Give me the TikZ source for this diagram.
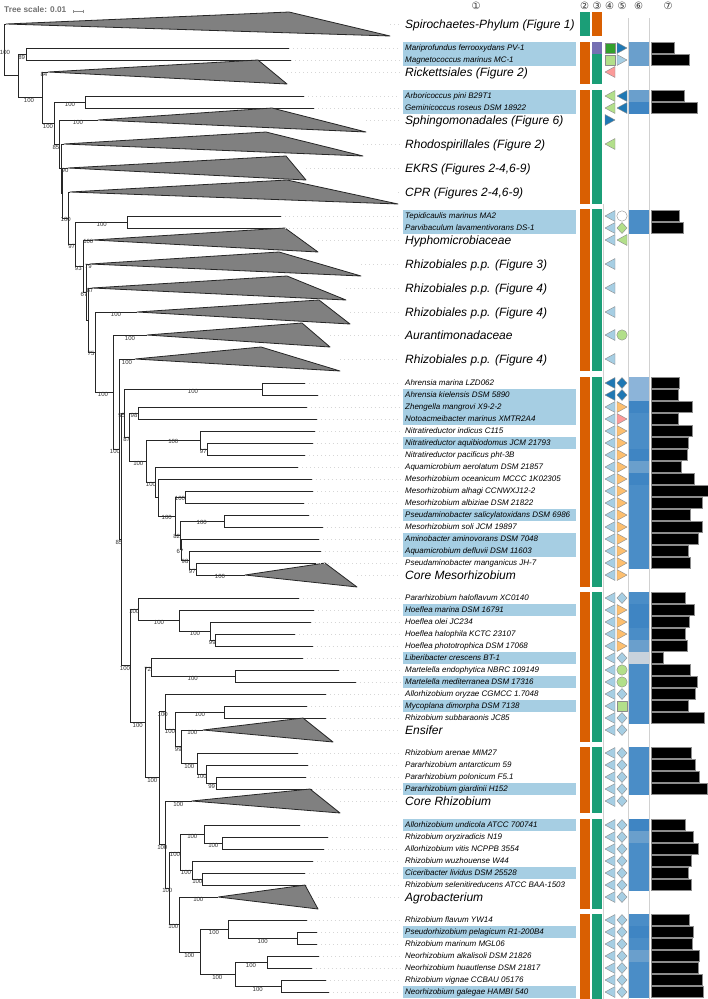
\documentclass[tikz,border=0pt]{standalone}
\usepackage{fontspec}
\setmainfont{Liberation Sans}
\newfontfamily\circfont{DejaVu Sans}
\usetikzlibrary{arrows.meta}
\definecolor{StripOrange}{HTML}{D95F02}
\definecolor{StripTeal}{HTML}{1B9E77}
\definecolor{StripPurple}{HTML}{7570B3}
\definecolor{HiBlue}{HTML}{A6CEE3}
\definecolor{DkBlue}{HTML}{1F78B4}
\definecolor{LtBlue}{HTML}{A6CEE3}
\definecolor{DkGreen}{HTML}{33A02C}
\definecolor{LtGreen}{HTML}{B2DF8A}
\definecolor{Pink}{HTML}{FB9A99}
\definecolor{LtOrange}{HTML}{FDBF6F}
\definecolor{CladeGray}{HTML}{808080}
\definecolor{boxA}{HTML}{4A8DC7}
\definecolor{boxB}{HTML}{3F85C3}
\definecolor{boxC}{HTML}{6A9FCC}
\definecolor{boxD}{HTML}{8CB4D9}
\definecolor{boxG}{HTML}{C8D2DC}
\tikzset{
	branch/.style={draw=black!85, line width=0.9pt},
	clade/.style={draw=black!85, fill=CladeGray, line width=0.8pt, line join=round},
	leader/.style={draw=black!16, line width=0.6pt, dash pattern=on 1pt off 3pt},
	taxon/.style={anchor=base west, inner sep=0pt, yshift=-2.8pt, font=\fontsize{8}{9}\selectfont\itshape},
	group/.style={anchor=base west, inner sep=0pt, yshift=-4.3pt, font=\fontsize{12}{13}\selectfont\itshape},
	boot/.style={inner sep=0pt, text=black!80, font=\fontsize{6}{6}\selectfont},
	colhead/.style={inner sep=0pt, text=black!80, font=\circfont\fontsize{10}{10}\selectfont},
	colline/.style={draw=black!18, line width=0.8pt},
	bar/.style={fill=black, draw=black!45, line width=0.4pt},
	symbol/.style={draw=black!45, line width=0.4pt, line join=round},
	pics/triL/.style={code={\draw[symbol, fill=#1] (5,-5.5) -- (5,5.5) -- (-5,0) -- cycle;}},
	pics/triR/.style={code={\draw[symbol, fill=#1] (-5,-5.5) -- (-5,5.5) -- (5,0) -- cycle;}},
	pics/dia/.style={code={\draw[symbol, fill=#1] (0,-5.5) -- (5,0) -- (0,5.5) -- (-5,0) -- cycle;}},
	pics/sq/.style={code={\draw[symbol, fill=#1] (-5,-5) rectangle (5,5);}},
	pics/dot/.style={code={\draw[symbol, fill=#1] (0,0) circle (5.2pt);}}
}

\begin{document}
\begin{tikzpicture}[x=1pt, y=-1pt]
	\fill[white] (0,0) rectangle (708,999);
	\useasboundingbox (0,0) rectangle (708,999);
	
	% scale
	\node[anchor=west, inner sep=0pt, text=black!55, font=\bfseries\fontsize{8.3}{9}\selectfont] (scale) at (4,10) {Tree scale: 0.01};
	\coordinate (sb-l) at (72.7,11);
	\coordinate (sb-r) at (83.3,11);
	\draw[black!45, line width=0.5pt, {Bar[width=3pt]}-{Bar[width=3pt]}] (sb-l) -- (sb-r);
	
	% column headers
	\foreach \x/\d [count=\k] in {476/①, 584.5/②, 597/③, 609.5/④, 622/⑤, 638.5/⑥, 668/⑦}
		\node[colhead] (head\k) at (\x,6) {\d};
	
	% highlighted labels
	\foreach \ya/\yb in {42/66, 90/114, 210/234, 389/425, 437/449, 509/521, 533/557, 604/616, 652/664, 676/688, 700/712, 783/795, 819/831, 867/879, 926/938, 986/998}
		\fill[HiBlue] (403,\ya) rectangle (576,\yb);
	
	% tree nodes
	\coordinate (rt) at (4.5,50);
	\coordinate (spi) at (6,24);
	\coordinate (n1) at (18,75.8);
	\coordinate (nmm) at (26,54);
	\coordinate (mfer) at (289,48);
	\coordinate (mmar) at (291,60);
	\coordinate (n2) at (42,97.5);
	\coordinate (ric) at (48,72);
	\coordinate (n3) at (54,123);
	\coordinate (nag) at (85,102);
	\coordinate (apin) at (304,96);
	\coordinate (gros) at (314,108);
	\coordinate (n4) at (59,144.3);
	\coordinate (sph) at (98,120);
	\coordinate (n5) at (61,168.5);
	\coordinate (rho) at (64,144);
	\coordinate (n6) at (62.5,193);
	\coordinate (ekr) at (68,168);
	\coordinate (n7) at (68.3,218);
	\coordinate (cpr) at (70,192);
	\coordinate (n8) at (75,244);
	\coordinate (ntp) at (127.7,222);
	\coordinate (tmar) at (281,216);
	\coordinate (plav) at (285,228);
	\coordinate (n9) at (83.3,266);
	\coordinate (hyp) at (93,240);
	\coordinate (n10) at (86.7,292);
	\coordinate (rz3) at (90,264);
	\coordinate (n11) at (88,320);
	\coordinate (rz4a) at (92,288);
	\coordinate (n12) at (95,352);
	\coordinate (rz4b) at (137,312);
	\coordinate (n13) at (113,392);
	\coordinate (aur) at (147,335);
	\coordinate (n14) at (119,449);
	\coordinate (rz4c) at (135,359);
	\coordinate (n15) at (121,539.3);
	% Mesorhizobium side
	\coordinate (a1) at (124,413);
	\coordinate (ahr) at (262,389);
	\coordinate (amar) at (305,383);
	\coordinate (akie) at (318,395);
	\coordinate (a2) at (129.3,437);
	\coordinate (zno) at (138,413);
	\coordinate (zman) at (306.7,407);
	\coordinate (nmar) at (316.7,419);
	\coordinate (a3) at (146.7,461);
	\coordinate (nit) at (200,440);
	\coordinate (nind) at (315,431);
	\coordinate (nit2) at (207.3,449);
	\coordinate (naqu) at (312.7,443);
	\coordinate (npac) at (305,455);
	\coordinate (a4) at (155.3,482.3);
	\coordinate (aaer) at (298.3,467);
	\coordinate (a5) at (158.3,497.6);
	\coordinate (moce) at (311.7,479);
	\coordinate (a6) at (175,516.1);
	\coordinate (mal) at (185.7,497);
	\coordinate (malh) at (313.3,491);
	\coordinate (malb) at (304,503);
	\coordinate (a7) at (180,535.3);
	\coordinate (psm) at (224.3,521);
	\coordinate (psal) at (309.3,515);
	\coordinate (msol) at (322.7,527);
	\coordinate (a8) at (181.7,549.5);
	\coordinate (aami) at (319.3,539);
	\coordinate (a9) at (189,560);
	\coordinate (adef) at (320.7,551);
	\coordinate (a10) at (196.7,569);
	\coordinate (pman) at (316,563);
	\coordinate (cme) at (245,575);
	% Rhizobium side
	\coordinate (b1) at (130,665.6);
	\coordinate (bph) at (138.3,609);
	\coordinate (phal) at (299.3,598);
	\coordinate (bhm) at (179.3,620.4);
	\coordinate (hmar) at (314,610);
	\coordinate (bho) at (210,631);
	\coordinate (hole) at (310.7,622);
	\coordinate (bhh) at (215.7,640);
	\coordinate (hhal) at (295,634);
	\coordinate (hpho) at (312.7,646);
	\coordinate (b2) at (145,722.4);
	\coordinate (blb) at (151,667);
	\coordinate (lcre) at (302.7,658);
	\coordinate (bmt) at (235,676);
	\coordinate (mend) at (339,670);
	\coordinate (mmed) at (355.7,682);
	\coordinate (b3) at (159.3,777.8);
	\coordinate (b4) at (165.7,711);
	\coordinate (aory) at (326,694);
	\coordinate (b4a) at (175.7,729);
	\coordinate (bmy) at (224.3,712);
	\coordinate (mdim) at (307.3,706);
	\coordinate (rsub) at (325.7,718);
	\coordinate (b4b) at (181.7,746.5);
	\coordinate (ens) at (203,730);
	\coordinate (b4c) at (197.7,763);
	\coordinate (rare) at (298.3,753);
	\coordinate (b4d) at (206.7,774);
	\coordinate (pant) at (308.3,765);
	\coordinate (b4e) at (216.7,783);
	\coordinate (ppol) at (306,777);
	\coordinate (pgia) at (311.7,789);
	\coordinate (b5) at (165.7,844.6);
	\coordinate (crh) at (191.7,801);
	\coordinate (b6) at (169.3,888.3);
	\coordinate (b7) at (180,852);
	\coordinate (b7a) at (204,834);
	\coordinate (aund) at (300,825);
	\coordinate (bro) at (222.3,843);
	\coordinate (rory) at (328.3,837);
	\coordinate (avit) at (324,849);
	\coordinate (b7b) at (192.3,870);
	\coordinate (rwuz) at (313.3,861);
	\coordinate (bcl) at (202.3,879);
	\coordinate (cliv) at (305,873);
	\coordinate (rsel) at (306,885);
	\coordinate (b8) at (179,924.5);
	\coordinate (agr) at (218.3,897);
	\coordinate (b9) at (200,952);
	\coordinate (b9a) at (228.3,929.4);
	\coordinate (rfla) at (306.7,920);
	\coordinate (bpp) at (297.3,938);
	\coordinate (ppel) at (317.3,932);
	\coordinate (rmar) at (317.3,944);
	\coordinate (b9b) at (235,974.7);
	\coordinate (bna) at (267.3,962);
	\coordinate (nalk) at (319,956);
	\coordinate (nhua) at (311.7,968);
	\coordinate (brv) at (281,986);
	\coordinate (rvig) at (326,980);
	\coordinate (ngal) at (329,992);
	
	% branches
	\foreach \p/\c in {rt/spi, rt/n1, n1/nmm, n1/n2, nmm/mfer, nmm/mmar, n2/ric, n2/n3, n3/nag, n3/n4, nag/apin, nag/gros, n4/sph, n4/n5, n5/rho, n5/n6, n6/ekr, n6/n7, n7/cpr, n7/n8, n8/ntp, n8/n9, ntp/tmar, ntp/plav, n9/hyp, n9/n10, n10/rz3, n10/n11, n11/rz4a, n11/n12, n12/rz4b, n12/n13, n13/aur, n13/n14, n14/rz4c, n14/n15, n15/a1, n15/b1,
		a1/ahr, a1/a2, ahr/amar, ahr/akie, a2/zno, a2/a3, zno/zman, zno/nmar, a3/nit, a3/a4, nit/nind, nit/nit2, nit2/naqu, nit2/npac, a4/aaer, a4/a5, a5/moce, a5/a6, a6/mal, a6/a7, mal/malh, mal/malb, a7/psm, a7/a8, psm/psal, psm/msol, a8/aami, a8/a9, a9/adef, a9/a10, a10/pman, a10/cme,
		b1/bph, b1/b2, bph/phal, bph/bhm, bhm/hmar, bhm/bho, bho/hole, bho/bhh, bhh/hhal, bhh/hpho, b2/blb, b2/b3, blb/lcre, blb/bmt, bmt/mend, bmt/mmed, b3/b4, b3/b5, b4/aory, b4/b4a, b4a/bmy, b4a/b4b, bmy/mdim, bmy/rsub, b4b/ens, b4b/b4c, b4c/rare, b4c/b4d, b4d/pant, b4d/b4e, b4e/ppol, b4e/pgia,
		b5/crh, b5/b6, b6/b7, b6/b8, b7/b7a, b7/b7b, b7a/aund, b7a/bro, bro/rory, bro/avit, b7b/rwuz, b7b/bcl, bcl/cliv, bcl/rsel, b8/agr, b8/b9, b9/b9a, b9/b9b, b9a/rfla, b9a/bpp, bpp/ppel, bpp/rmar, b9b/bna, b9b/brv, bna/nalk, bna/nhua, brv/rvig, brv/ngal}
		\draw[branch] (\p) |- (\c);
	
	% collapsed clades
	\foreach \c/\y/\tx/\ty/\bx/\by/\txt in {
		spi/24/289/12/390/36/{Spirochaetes-Phylum (Figure 1)},
		ric/72/258/60/287/84/{Rickettsiales (Figure 2)},
		sph/120/272/108/366/132/{Sphingomonadales (Figure 6)},
		rho/144/266/132/363/156/{Rhodospirillales (Figure 2)},
		ekr/168/286/156/306/180/{EKRS (Figures 2-4,6-9)},
		cpr/192/287/180/398/204/{CPR (Figures 2-4,6-9)},
		hyp/240/285/228/318/252/{Hyphomicrobiaceae},
		rz3/264/279/252/361/276/{Rhizobiales p.p. (Figure 3)},
		rz4a/288/287/276/346/300/{Rhizobiales p.p. (Figure 4)},
		rz4b/312/319/300/350/324/{Rhizobiales p.p. (Figure 4)},
		aur/335/302/323/330/347/{Aurantimonadaceae},
		rz4c/359/261/347/340/371/{Rhizobiales p.p. (Figure 4)},
		cme/575/325/563/357/587/{Core Mesorhizobium},
		ens/730/303/718/333/742/{Ensifer},
		crh/801/310/789/340/813/{Core Rhizobium},
		agr/897/305/885/318/909/{Agrobacterium}}{
		\draw[clade] (\c) -- (\tx,\ty) -- (\bx,\by) -- cycle;
		\draw[leader] (\bx,\y) -- (400,\y);
		\node[group] (l-\c) at (405,\y) {\txt};
	}
	
	% taxa
	\foreach \t/\txt in {mfer/{Mariprofundus ferrooxydans PV-1}, mmar/{Magnetococcus marinus MC-1},
		apin/{Arboricoccus pini B29T1}, gros/{Geminicoccus roseus DSM 18922},
		tmar/{Tepidicaulis marinus MA2}, plav/{Parvibaculum lavamentivorans DS-1},
		amar/{Ahrensia marina LZD062}, akie/{Ahrensia kielensis DSM 5890}, zman/{Zhengella mangrovi X9-2-2}, nmar/{Notoacmeibacter marinus XMTR2A4},
		nind/{Nitratireductor indicus C115}, naqu/{Nitratireductor aquibiodomus JCM 21793}, npac/{Nitratireductor pacificus pht-3B},
		aaer/{Aquamicrobium aerolatum DSM 21857}, moce/{Mesorhizobium oceanicum MCCC 1K02305}, malh/{Mesorhizobium alhagi CCNWXJ12-2},
		malb/{Mesorhizobium albiziae DSM 21822}, psal/{Pseudaminobacter salicylatoxidans DSM 6986}, msol/{Mesorhizobium soli JCM 19897},
		aami/{Aminobacter aminovorans DSM 7048}, adef/{Aquamicrobium defluvii DSM 11603}, pman/{Pseudaminobacter manganicus JH-7},
		phal/{Pararhizobium haloflavum XC0140}, hmar/{Hoeflea marina DSM 16791}, hole/{Hoeflea olei JC234}, hhal/{Hoeflea halophila KCTC 23107},
		hpho/{Hoeflea phototrophica DSM 17068}, lcre/{Liberibacter crescens BT-1}, mend/{Martelella endophytica NBRC 109149},
		mmed/{Martelella mediterranea DSM 17316}, aory/{Allorhizobium oryzae CGMCC 1.7048}, mdim/{Mycoplana dimorpha DSM 7138},
		rsub/{Rhizobium subbaraonis JC85}, rare/{Rhizobium arenae MIM27}, pant/{Pararhizobium antarcticum 59},
		ppol/{Pararhizobium polonicum F5.1}, pgia/{Pararhizobium giardinii H152},
		aund/{Allorhizobium undicola ATCC 700741}, rory/{Rhizobium oryziradicis N19}, avit/{Allorhizobium vitis NCPPB 3554},
		rwuz/{Rhizobium wuzhouense W44}, cliv/{Ciceribacter lividus DSM 25528}, rsel/{Rhizobium selenitireducens ATCC BAA-1503},
		rfla/{Rhizobium flavum YW14}, ppel/{Pseudorhizobium pelagicum R1-200B4}, rmar/{Rhizobium marinum MGL06},
		nalk/{Neorhizobium alkalisoli DSM 21826}, nhua/{Neorhizobium huautlense DSM 21817}, rvig/{Rhizobium vignae CCBAU 05176},
		ngal/{Neorhizobium galegae HAMBI 540}}{
		\draw[leader] (\t) -- (400,0 |- \t);
		\node[taxon] (l-\t) at (405,0 |- \t) {\txt};
	}
	
	% bootstrap values
	\foreach \x/\y/\v [count=\k] in {5/52/100, 21.7/57/89, 29/100/100, 44/74/84, 48/126/100, 70/104/100, 78/122/100, 56/147/85, 65/170/90,
		65.7/219.5/100, 101.7/224.5/100, 71.7/246/97, 88.3/241.7/100, 78.3/268.3/93, 88.3/266/79, 84/294/67, 90/290/87, 91/353.3/75,
		116/314/100, 103/394/100, 130/338/100, 115/451.7/100, 127/362/100, 119/542/85, 193/391.3/100, 121.7/415.7/95, 134/415/98,
		126.7/439.3/87, 138.3/463.3/100, 173.3/441.7/100, 203.3/451/97, 151/484.3/100, 166.7/517.7/100, 180/498.3/100, 201.7/522.7/100,
		176.7/536.7/82, 180/551.7/67, 185/561.7/98, 192.3/571/97, 220/576.7/100, 125/668/100, 134.3/611.7/100, 159/622.7/100,
		195/633.3/100, 212.3/642.3/99, 147.7/669.3/72, 192.7/678.7/100, 137.7/725/100, 152.3/780.7/100, 162.7/714/100, 170/731.7/100,
		200/714/100, 178.3/749/99, 192.3/732.3/100, 189.3/766.7/100, 201.7/776.7/100, 211.7/786/99, 178.3/804/100, 162.3/847.3/100,
		167.3/890.7/100, 175/854/100, 192.3/836.7/100, 213.3/845.7/100, 186/872.3/100, 197.3/881/100, 173.3/926.7/100, 198.3/899.3/100,
		189.3/955/100, 214/932.7/100, 262.7/941.7/100, 217.3/977.3/100, 251/965.7/100, 257.7/989.3/100}
		\node[boot] (bs\k) at (\x,\y) {\v};
	
	% strips 2 and 3
	\foreach \ya/\yb in {42/84, 90/204, 209/371, 377/587, 592/742, 747/813, 819/909, 914/999}{
		\fill[StripOrange] (579.5,\ya) rectangle (590,\yb);
		\fill[StripTeal] (592,\ya) rectangle (602,\yb);
	}
	\fill[StripTeal] (579.5,12) rectangle (590,36);
	\fill[StripOrange] (592,12) rectangle (602,36);
	\fill[StripPurple] (592,42) rectangle (602,54);
	
	% column lines
	\draw[colline] (603.5,204) -- (603.5,999);
	\draw[colline] (628.5,18) -- (628.5,999);
	\draw[colline] (649.5,18) -- (649.5,999);
	
	% column 4
	\pic at (610,48) {sq=DkGreen};
	\pic at (610,60) {sq=LtGreen};
	\pic at (610,120) {triR=DkBlue};
	\foreach \y/\c in {72/Pink, 96/LtGreen, 108/LtGreen, 144/LtGreen, 383/DkBlue, 395/DkBlue,
		216/LtBlue, 228/LtBlue, 240/LtBlue, 264/LtBlue, 288/LtBlue, 312/LtBlue, 335/LtBlue, 359/LtBlue}
		\pic at (610,\y) {triL=\c};
	\foreach \y in {407,419,...,575, 598,610,...,730, 753,765,...,801, 825,837,...,897, 920,932,...,992}
		\pic at (610,\y) {triL=LtBlue};
	
	% column 5
	\foreach \y/\c in {48/DkBlue, 60/LtBlue, 407/LtOrange, 419/Pink, 610/LtOrange, 622/LtOrange, 634/LtOrange, 646/LtOrange}
		\pic at (622,\y) {triR=\c};
	\foreach \y in {431,443,...,575}
		\pic at (622,\y) {triR=LtOrange};
	\foreach \y/\c in {96/DkBlue, 108/DkBlue, 240/LtGreen}
		\pic at (622,\y) {triL=\c};
	\foreach \y/\c in {216/white, 335/LtGreen, 670/LtGreen, 682/LtGreen}
		\pic at (622,\y) {dot=\c};
	\pic at (622,706) {sq=LtGreen};
	\foreach \y/\c in {228/LtGreen, 383/DkBlue, 395/DkBlue}
		\pic at (622,\y) {dia=\c};
	\foreach \y in {598, 658, 694, 718, 730, 753,765,...,801, 825,837,...,897, 920,932,...,992}
		\pic at (622,\y) {dia=LtBlue};
	
	% column 6
	\foreach \y/\c in {48/boxC, 60/boxC, 96/boxC, 108/boxB, 216/boxA, 228/boxA, 383/boxD, 395/boxD, 407/boxB, 419/boxA, 431/boxA,
		443/boxA, 455/boxB, 467/boxC, 479/boxB, 491/boxA, 503/boxA, 515/boxA, 527/boxA, 539/boxA, 551/boxA, 563/boxA,
		598/boxA, 610/boxB, 622/boxB, 634/boxA, 646/boxC, 658/boxG, 670/boxA, 682/boxA, 694/boxA, 706/boxA, 718/boxA,
		753/boxA, 765/boxA, 777/boxA, 789/boxA, 825/boxB, 837/boxC, 849/boxA, 861/boxA, 873/boxA, 885/boxA,
		920/boxA, 932/boxB, 944/boxA, 956/boxC, 968/boxA, 980/boxA, 992/boxA}
		\fill[\c] (629,\y-6) rectangle (649,\y+6);
	
	% column 7
	\foreach \y/\e in {48/674, 60/689, 96/684, 108/697, 216/679, 228/683, 383/679, 395/678, 407/692, 419/678, 431/692, 443/688,
		455/687, 467/681, 479/694, 491/708, 503/702, 515/690, 527/702, 539/698, 551/688, 563/690, 598/685, 610/694, 622/689,
		634/685, 646/687, 658/663, 670/690, 682/697, 694/695, 706/688, 718/704, 753/691, 765/695, 777/699, 789/707,
		825/685, 837/693, 849/698, 861/691, 873/688, 885/691, 920/689, 932/693, 944/692, 956/699, 968/698, 980/702, 992/703}
		\draw[bar] (651,\y-5.5) rectangle (\e,\y+5.5);
\end{tikzpicture}
\end{document}
